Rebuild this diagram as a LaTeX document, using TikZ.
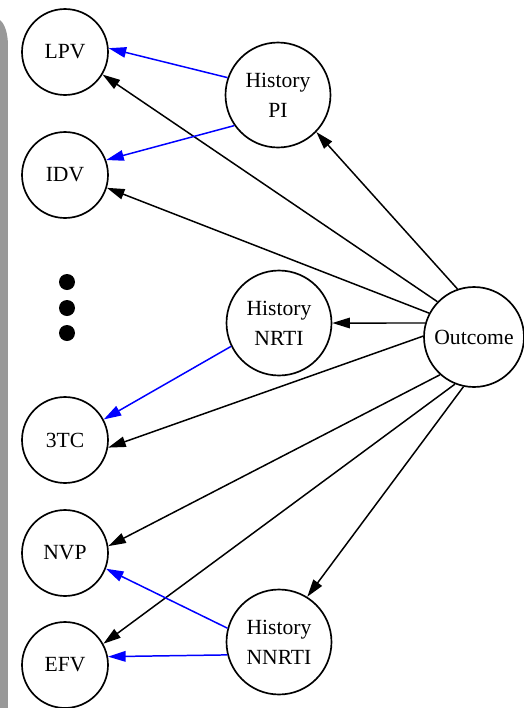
\documentclass[tikz,border=0pt]{standalone}
\usepackage{fontspec}
\setmainfont{Liberation Serif}
\usetikzlibrary{arrows.meta}
\begin{document}
\begin{tikzpicture}[x=0.02cm,y=-0.02cm,font=\fontsize{12.3}{17}\selectfont]
    \tikzset{
        drug/.style={
            draw,circle,line width=0.95pt,inner sep=0pt,
            minimum size=1.72cm,align=center
        },
        history/.style={
            draw,circle,line width=0.95pt,inner sep=0pt,
            minimum size=2.1cm,align=center
        },
        target/.style={
            draw,circle,line width=0.95pt,inner sep=0pt,
            minimum size=2.0cm,align=center
        },
        flow/.style={-{Triangle[length=10pt,width=6pt]},line width=0.85pt},
        prior/.style={flow,blue}
    }
    \useasboundingbox (0,0) rectangle (524,708);

    % side bar
    \fill[black!40] (0,708) -- (0,20) .. controls (5,24) and (8,34) .. (8,46)
        -- (8,708) -- cycle;

    \node[drug] (lpv) at (65,52) {LPV};
    \node[drug] (idv) at (65,175) {IDV};
    \node[drug] (ttc) at (65,440) {3TC};
    \node[drug] (nvp) at (65,553) {NVP};
    \node[drug] (efv) at (65,665) {EFV};

    \foreach \y [count=\i] in {282,308,333}
        \fill (67,\y) circle[radius=8] coordinate (dot\i);

    \node[history] (pi) at (278,95) {History\\PI};
    \node[history] (nrti) at (279,323) {History\\NRTI};
    \node[history] (nnrti) at (279,642) {History\\NNRTI};

    \node[target] (outc) at (474,337) {Outcome};

    \foreach \t/\a/\b in {lpv/136/-31,idv/152.5/-17,pi/109/-44,nrti/164/0,
                          ttc/179/-10,nvp/228/9.5,efv/248/29,nnrti/258/58.6}
        \draw[flow] (outc.\a) -- (\t.\b);

    \foreach \s/\t/\a/\b in {pi/lpv/161.6/5,pi/idv/215/20.6,nrti/ttc/206/28.7,
                             nnrti/nvp/165/-21.6,nnrti/efv/194/11.8}
        \draw[prior] (\s.\a) -- (\t.\b);
\end{tikzpicture}
\end{document}
